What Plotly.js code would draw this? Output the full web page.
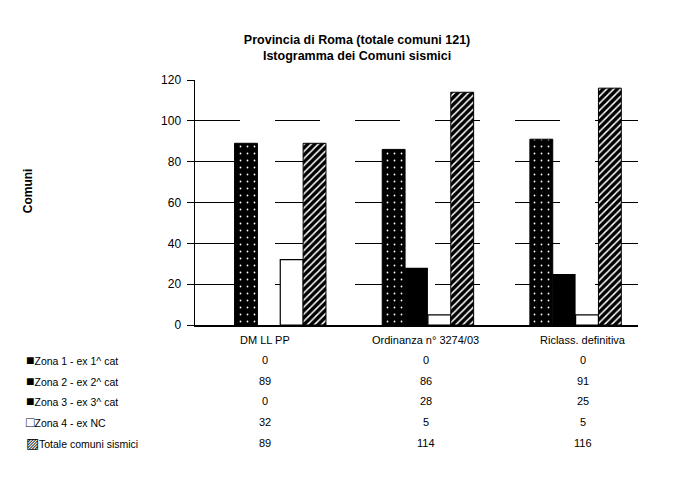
<!DOCTYPE html>
<html>
<head>
<meta charset="utf-8">
<script src="https://cdn.plot.ly/plotly-3.0.1.min.js"></script>
<style>html,body{margin:0;padding:0;background:#fff;}#chart{width:688px;height:486px;}</style>
</head>
<body>
<div id="chart"></div>
<script>
const categories = ["DM LL PP", "Ordinanza n° 3274/03", "Riclass. definitiva"];
const zona1 = [0, 0, 0];
const zona2 = [89, 86, 91];
const zona3 = [0, 28, 25];
const zona4 = [32, 5, 5];
const totale = [89, 114, 116];
const seriesNames = ["Zona 1 - ex 1^ cat", "Zona 2 - ex 2^ cat", "Zona 3 - ex 3^ cat", "Zona 4 - ex NC", "Totale comuni sismici"];
const legendSymbols = ["■", "■", "■", "□", "▨"];
const yTicks = [0, 20, 40, 60, 80, 100, 120];

const allSeries = [zona1, zona2, zona3, zona4, totale];
const F = "Liberation Sans, Arial, sans-serif";

const traces = [
  {type: "bar", name: seriesNames[0], x: categories, y: zona1,
   marker: {color: "#000", line: {color: "#000", width: 0}}},
  {type: "bar", name: seriesNames[1], x: categories, y: zona2,
   marker: {color: "#000", line: {color: "#000", width: 1},
            pattern: {shape: ".", fgcolor: "#fff", bgcolor: "#000", size: 7, solidity: 0.05}}},
  {type: "bar", name: seriesNames[2], x: categories, y: zona3,
   marker: {color: "#000", line: {color: "#000", width: 0}}},
  {type: "bar", name: seriesNames[3], x: categories, y: zona4,
   marker: {color: "#fff", line: {color: "#000", width: 1.2}}},
  {type: "bar", name: seriesNames[4], x: categories, y: totale,
   marker: {color: "#fff", line: {color: "#000", width: 1},
            pattern: {shape: "/", fgcolor: "#000", bgcolor: "#fff", size: 5, solidity: 0.7}}}
];

const rowY = [-0.143, -0.229, -0.31, -0.396, -0.482];
const colShift = [-4, 9, 19];
const annotations = [];

categories.forEach((c, i) => {
  annotations.push({xref: "x", yref: "paper", x: c, y: -0.061, yanchor: "middle", xshift: colShift[i],
    text: c, showarrow: false, font: {family: F, size: 11, color: "#000"}});
  allSeries.forEach((s, r) => {
    annotations.push({xref: "x", yref: "paper", x: c, y: rowY[r], yanchor: "middle", xshift: colShift[i],
      text: String(s[i]), showarrow: false, font: {family: F, size: 11, color: "#000"}});
  });
});
seriesNames.forEach((n, r) => {
  annotations.push({xref: "paper", yref: "paper", x: -0.387, y: rowY[r], xanchor: "left", yanchor: "middle",
    text: "<span style='font-size:14px'>" + legendSymbols[r] + "</span>" + n, showarrow: false,
    font: {family: F, size: 10.5, color: "#000"}});
});
annotations.push({xref: "paper", yref: "paper", x: -0.377, y: 0.55, xanchor: "center", yanchor: "middle", textangle: -90,
  text: "<b>Comuni</b>", showarrow: false, font: {family: F, size: 12, color: "#000"}});

const layout = {
  width: 688, height: 486,
  margin: {l: 195, r: 50, t: 80, b: 161},
  paper_bgcolor: "#fff", plot_bgcolor: "#fff",
  showlegend: false,
  barmode: "group", bargap: 0.226, bargroupgap: 0,
  title: {text: "<b>Provincia di Roma (totale comuni 121)<br>Istogramma dei Comuni sismici</b>",
    x: 0.519, xref: "container", xanchor: "center", y: 0.91, yref: "container", yanchor: "middle",
    font: {family: F, size: 12.5, color: "#000"}},
  xaxis: {showticklabels: false, ticks: "", showline: true, linecolor: "#000", linewidth: 1.5,
    showgrid: false, zeroline: false},
  yaxis: {range: [0, 120], tickvals: yTicks, ticks: "outside", ticklen: 7, tickcolor: "#000",
    showline: true, linecolor: "#000", linewidth: 1.5, showgrid: true, gridcolor: "#000", gridwidth: 1,
    griddash: "45px,35px",
    zeroline: false, ticklabelstandoff: 3, tickfont: {family: F, size: 12, color: "#000"}},
  annotations: annotations
};

Plotly.newPlot("chart", traces, layout, {displayModeBar: false, staticPlot: true});
</script>
</body>
</html>
